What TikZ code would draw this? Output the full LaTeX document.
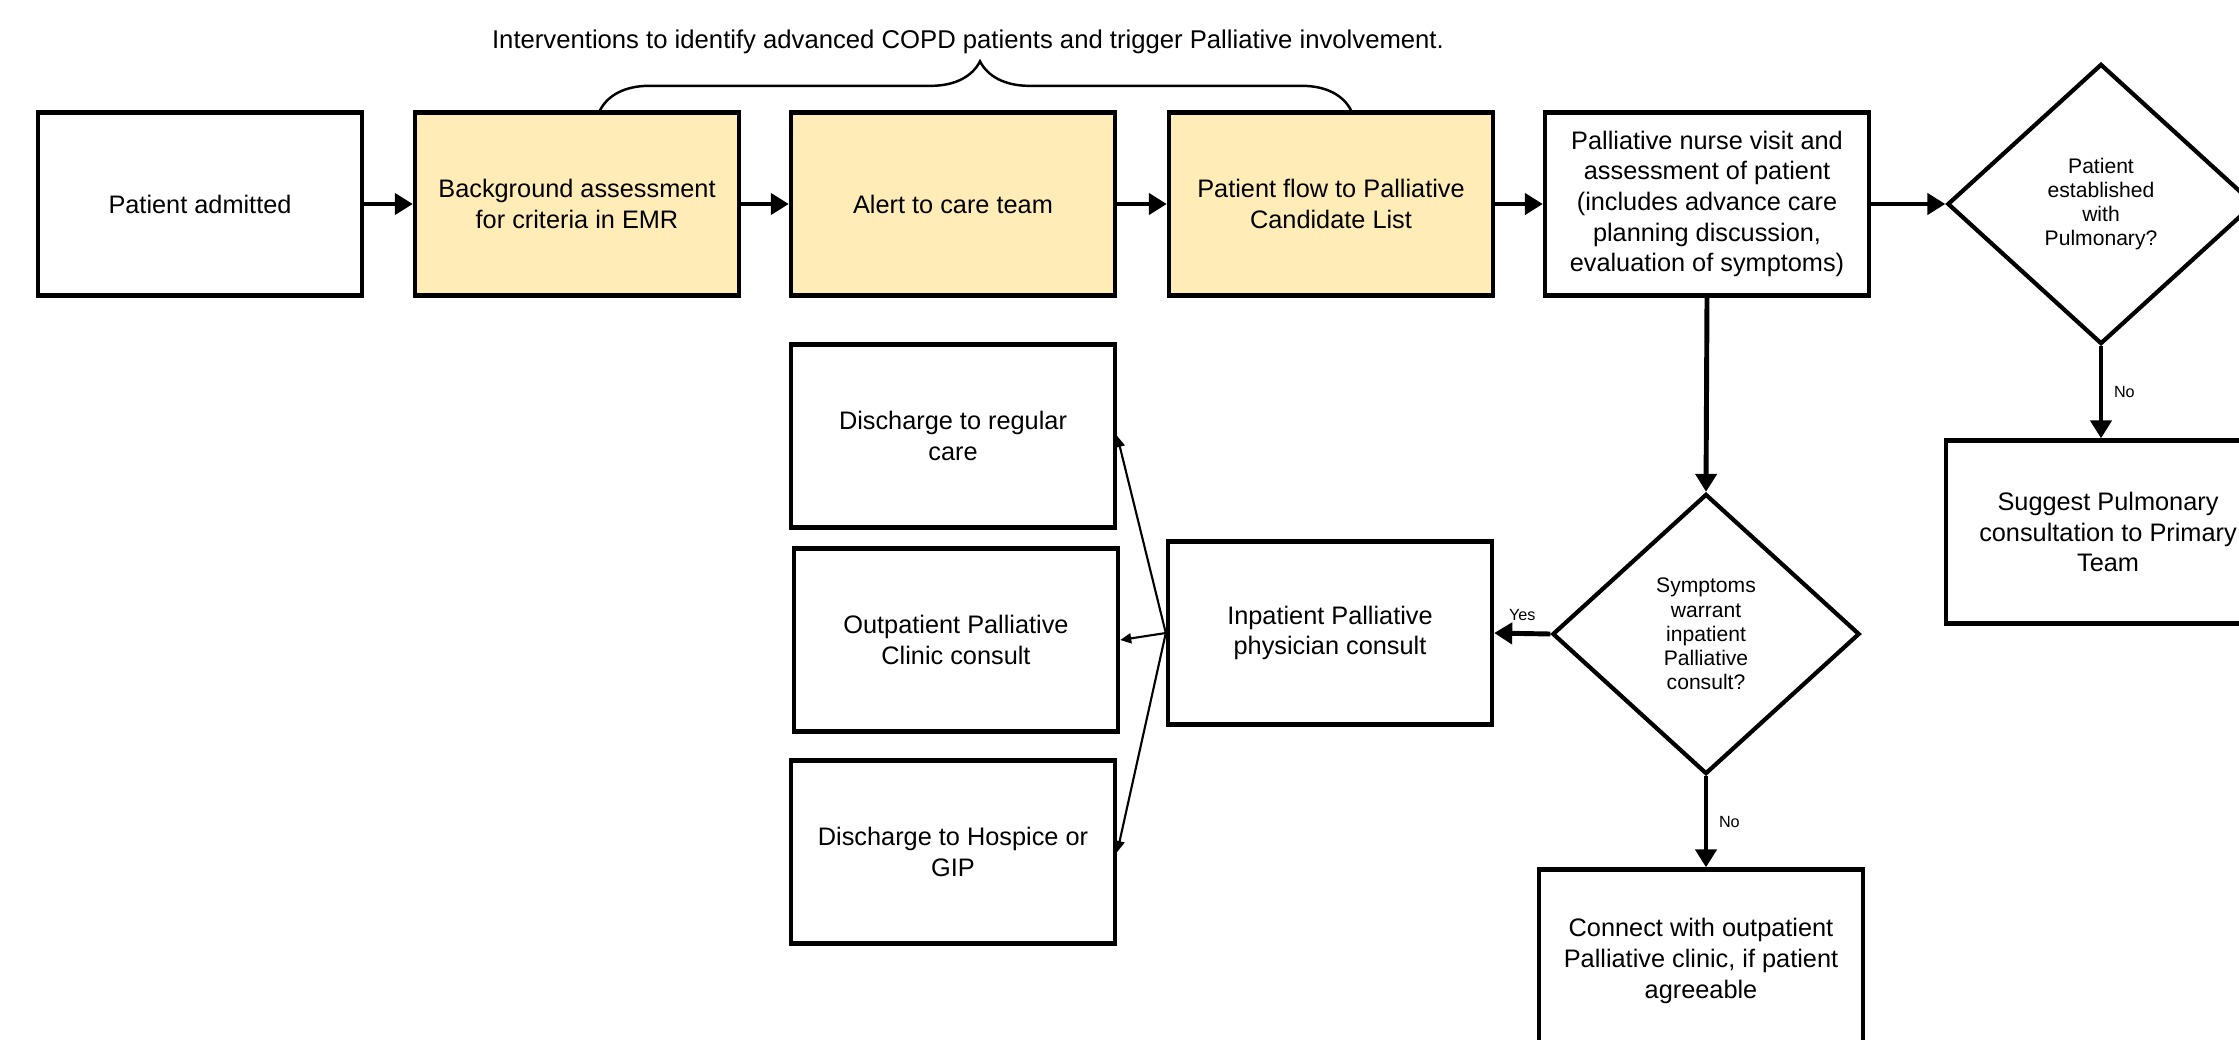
\documentclass[tikz,border=0pt]{standalone}
\usepackage{fontspec}
\setmainfont{Liberation Sans}
\usetikzlibrary{arrows.meta,shapes.geometric,decorations.pathreplacing}
\definecolor{candfill}{RGB}{255,236,183}
\begin{document}
\begin{tikzpicture}[x=0.01cm, y=-0.01cm,
		every node/.style={align=center, font=\fontsize{7.2}{8.7}\selectfont},
		box/.style={draw, line width=1.2pt, minimum width=3.24cm, minimum height=1.83cm, inner sep=2pt},
		cand/.style={box, fill=candfill},
		decision/.style={draw, diamond, line width=1.2pt, minimum width=3.07cm, minimum height=2.8cm, inner sep=0pt, font=\fontsize{6}{6.9}\selectfont},
		flow/.style={line width=1.4pt, -{Triangle[length=1.8mm, width=2.1mm]}},
		fan/.style={line width=0.6pt, -{Triangle[length=1.1mm, width=1mm]}},
		tag/.style={font=\fontsize{4.6}{5.5}\selectfont, inner sep=3pt}]
		\useasboundingbox (0,0) rectangle (2239,1039);
		\clip (0,0) rectangle (2239,1039);
		\node[box] (admit) at (200,204) {Patient admitted};
		\node[cand] (bg) at (577,204) {Background assessment\\for criteria in EMR};
		\node[cand] (alert) at (953,204) {Alert to care team};
		\node[cand] (candlist) at (1331,204) {Patient flow to Palliative\\Candidate List};
		\node[box] (nurse) at (1707,204) {Palliative nurse visit and\\assessment of patient\\(includes advance care\\planning discussion,\\evaluation of symptoms)};
		\node[decision] (pulm) at (2101,204) {Patient\\established\\with\\Pulmonary?};
		\node[box] (suggest) at (2108,532) {Suggest Pulmonary\\consultation to Primary\\Team};
		\node[decision] (symp) at (1706,634) {Symptoms\\warrant\\inpatient\\Palliative\\consult?};
		\node[box] (inpat) at (1330,633) {Inpatient Palliative\\physician consult};
		\node[box] (regular) at (953,436) {Discharge to regular\\care};
		\node[box] (outpat) at (956,640) {Outpatient Palliative\\Clinic consult};
		\node[box] (hospice) at (953,852) {Discharge to Hospice or\\GIP};
		\node[box] (connect) at (1701,961) {Connect with outpatient\\Palliative clinic, if patient\\agreeable};
		\node[font=\fontsize{7.3}{8.8}\selectfont] (title) at (968,42) {Interventions to identify advanced COPD patients and trigger Palliative involvement.};
		\coordinate (braceL) at ([xshift=0.23cm]bg.north);
		\coordinate (braceR) at ([xshift=0.2cm]candlist.north);
		\draw[decorate, decoration={brace, amplitude=0.49cm, aspect=0.506}, line width=0.7pt] (braceL) -- (braceR);
		\draw[flow] (admit) -- (bg);
		\draw[flow] (bg) -- (alert);
		\draw[flow] (alert) -- (candlist);
		\draw[flow] (candlist) -- (nurse);
		\draw[flow] (nurse) -- (pulm);
		\draw[flow] (pulm.south) -- node[tag, right] {No} (pulm.south |- suggest.north);
		\draw[flow] (nurse.south) -- (symp.north);
		\draw[flow] (symp.west) -- node[tag, above] {Yes} (inpat.east);
		\draw[flow] (symp.south) -- node[tag, right] {No} (symp.south |- connect.north);
		\draw[fan] (inpat.west) -- (regular.east);
		\draw[fan] (inpat.west) -- (outpat.east);
		\draw[fan] (inpat.west) -- (hospice.east);
	\end{tikzpicture}
\end{document}
